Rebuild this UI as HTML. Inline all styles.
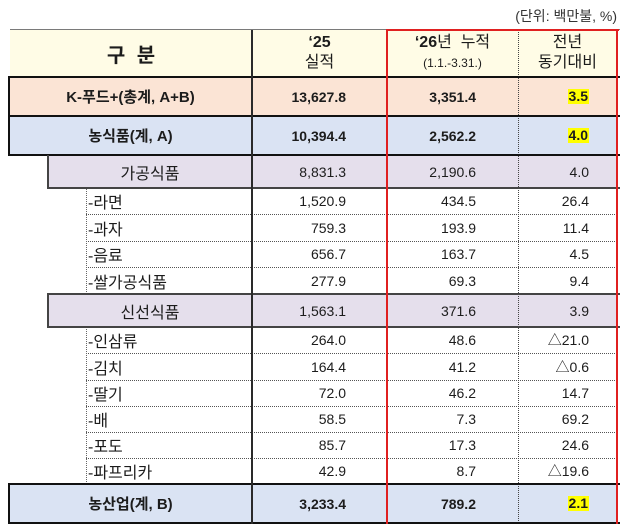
<!DOCTYPE html>
<html><head><meta charset="utf-8">
<style>
*{margin:0;padding:0;box-sizing:border-box}
html,body{width:630px;height:526px;background:#fff;overflow:hidden}
body{position:relative;font-family:"Liberation Sans","Noto Sans CJK KR",sans-serif;color:#1c1c1c}
.a{position:absolute}
.bg{position:absolute}
.row{position:absolute;left:0;width:630px}
.row div{position:absolute;top:0;height:100%;display:flex;align-items:center;white-space:nowrap;font-size:14px}
.c1{left:9px;width:243px;justify-content:center;font-size:15px!important}
.c1s{left:88px;width:160px;justify-content:flex-start;font-size:16px!important}
.c1m{left:48px;width:204px;justify-content:center;font-size:16px!important}
.c2{left:252px;width:135px;justify-content:flex-end;padding-right:41px}
.c3{left:387px;width:131px;justify-content:flex-end;padding-right:42px}
.c4{left:518px;width:99px;justify-content:flex-end;padding-right:28px}
.b div{font-weight:bold}
.hl{background:#ffff00;padding:0 1px;line-height:15px}
.hx{position:absolute;height:0}
.vx{position:absolute;width:0}
</style></head><body>

<!-- backgrounds -->
<div class="bg" style="left:10px;top:30px;width:607px;height:47px;background:#fffce6"></div>
<div class="bg" style="left:9px;top:77px;width:608px;height:39px;background:#fbe4d5"></div>
<div class="bg" style="left:9px;top:116px;width:608px;height:39px;background:#dae3f3"></div>
<div class="bg" style="left:48px;top:155px;width:569px;height:33px;background:#e5dfec"></div>
<div class="bg" style="left:48px;top:294px;width:569px;height:33px;background:#e5dfec"></div>
<div class="bg" style="left:9px;top:484px;width:608px;height:39px;background:#dae3f3"></div>

<!-- unit -->
<div class="a" style="right:13px;top:6px;font-size:14px;color:#333">(단위: 백만불, %)</div>

<!-- header -->
<div class="a" style="left:10px;top:30px;width:242px;height:47px;display:flex;align-items:center;justify-content:center;font-size:20px;font-weight:bold;word-spacing:6px">구 분</div>
<div class="a" style="left:252px;top:33px;width:135px;text-align:center;font-size:16px;line-height:20px"><b>‘25</b><br>실적</div>
<div class="a" style="left:387px;top:33px;width:131px;text-align:center;font-size:16px;line-height:20px"><b>‘26</b>년&nbsp; 누적</div>
<div class="a" style="left:387px;top:55px;width:131px;text-align:center;font-size:12px;line-height:16px">(1.1.-3.31.)</div>
<div class="a" style="left:518px;top:33px;width:99px;text-align:center;font-size:16px;line-height:20px">전년<br>동기대비</div>

<!-- rows -->
<div class="row b" style="top:77px;height:39px"><div class="c1">K-푸드+(총계, A+B)</div><div class="c2">13,627.8</div><div class="c3">3,351.4</div><div class="c4"><span class="hl">3.5</span></div></div>
<div class="row b" style="top:116px;height:39px"><div class="c1">농식품(계, A)</div><div class="c2">10,394.4</div><div class="c3">2,562.2</div><div class="c4"><span class="hl">4.0</span></div></div>
<div class="row" style="top:155px;height:33px"><div class="c1m">가공식품</div><div class="c2">8,831.3</div><div class="c3">2,190.6</div><div class="c4">4.0</div></div>
<div class="row" style="top:188px;height:26px"><div class="c1s">-라면</div><div class="c2">1,520.9</div><div class="c3">434.5</div><div class="c4">26.4</div></div>
<div class="row" style="top:214px;height:27px"><div class="c1s">-과자</div><div class="c2">759.3</div><div class="c3">193.9</div><div class="c4">11.4</div></div>
<div class="row" style="top:241px;height:26px"><div class="c1s">-음료</div><div class="c2">656.7</div><div class="c3">163.7</div><div class="c4">4.5</div></div>
<div class="row" style="top:267px;height:27px"><div class="c1s">-쌀가공식품</div><div class="c2">277.9</div><div class="c3">69.3</div><div class="c4">9.4</div></div>
<div class="row" style="top:294px;height:33px"><div class="c1m">신선식품</div><div class="c2">1,563.1</div><div class="c3">371.6</div><div class="c4">3.9</div></div>
<div class="row" style="top:327px;height:26px"><div class="c1s">-인삼류</div><div class="c2">264.0</div><div class="c3">48.6</div><div class="c4">△21.0</div></div>
<div class="row" style="top:353px;height:27px"><div class="c1s">-김치</div><div class="c2">164.4</div><div class="c3">41.2</div><div class="c4">△0.6</div></div>
<div class="row" style="top:380px;height:26px"><div class="c1s">-딸기</div><div class="c2">72.0</div><div class="c3">46.2</div><div class="c4">14.7</div></div>
<div class="row" style="top:406px;height:26px"><div class="c1s">-배</div><div class="c2">58.5</div><div class="c3">7.3</div><div class="c4">69.2</div></div>
<div class="row" style="top:432px;height:26px"><div class="c1s">-포도</div><div class="c2">85.7</div><div class="c3">17.3</div><div class="c4">24.6</div></div>
<div class="row" style="top:458px;height:26px"><div class="c1s">-파프리카</div><div class="c2">42.9</div><div class="c3">8.7</div><div class="c4">△19.6</div></div>
<div class="row b" style="top:484px;height:39px"><div class="c1">농산업(계, B)</div><div class="c2">3,233.4</div><div class="c3">789.2</div><div class="c4"><span class="hl">2.1</span></div></div>

<!-- dotted horizontals -->
<div class="hx" style="left:86px;width:531px;top:214px;border-top:1px dotted #555"></div>
<div class="hx" style="left:86px;width:531px;top:241px;border-top:1px dotted #555"></div>
<div class="hx" style="left:86px;width:531px;top:267px;border-top:1px dotted #555"></div>
<div class="hx" style="left:86px;width:531px;top:353px;border-top:1px dotted #555"></div>
<div class="hx" style="left:86px;width:531px;top:380px;border-top:1px dotted #555"></div>
<div class="hx" style="left:86px;width:531px;top:406px;border-top:1px dotted #555"></div>
<div class="hx" style="left:86px;width:531px;top:432px;border-top:1px dotted #555"></div>
<div class="hx" style="left:86px;width:531px;top:458px;border-top:1px dotted #555"></div>

<!-- dotted verticals -->
<div class="vx" style="left:86px;top:188px;height:106px;border-left:1px dotted #666"></div>
<div class="vx" style="left:86px;top:327px;height:157px;border-left:1px dotted #666"></div>
<div class="vx" style="left:518px;top:30px;height:493px;border-left:1px dotted #444"></div>

<!-- solid lines -->
<div class="hx" style="left:10px;width:610px;top:29px;border-top:1px solid #7a7a7a"></div>
<div class="hx" style="left:8px;width:612px;top:76px;border-top:2px solid #111"></div>
<div class="hx" style="left:8px;width:612px;top:115px;border-top:2px solid #111"></div>
<div class="hx" style="left:8px;width:612px;top:154px;border-top:2px solid #111"></div>
<div class="hx" style="left:47px;width:573px;top:187px;border-top:2px solid #444"></div>
<div class="hx" style="left:47px;width:573px;top:293px;border-top:2px solid #444"></div>
<div class="hx" style="left:47px;width:573px;top:326px;border-top:2px solid #444"></div>
<div class="hx" style="left:8px;width:612px;top:483px;border-top:2px solid #111"></div>
<div class="hx" style="left:8px;width:612px;top:522px;border-top:2px solid #111"></div>

<div class="vx" style="left:8px;top:76px;height:80px;border-left:2px solid #111"></div>
<div class="vx" style="left:8px;top:483px;height:41px;border-left:2px solid #111"></div>
<div class="vx" style="left:47px;top:155px;height:34px;border-left:2px solid #444"></div>
<div class="vx" style="left:47px;top:294px;height:34px;border-left:2px solid #444"></div>
<div class="vx" style="left:251px;top:30px;height:494px;border-left:2px solid #2a2a2a"></div>

<!-- red box -->
<div class="hx" style="left:386px;width:233px;top:29px;border-top:2px solid #e02020"></div>
<div class="vx" style="left:386px;top:29px;height:495px;border-left:2px solid #e02020"></div>
<div class="vx" style="left:616px;top:29px;height:495px;border-left:2px solid #e02020"></div>

</body></html>
